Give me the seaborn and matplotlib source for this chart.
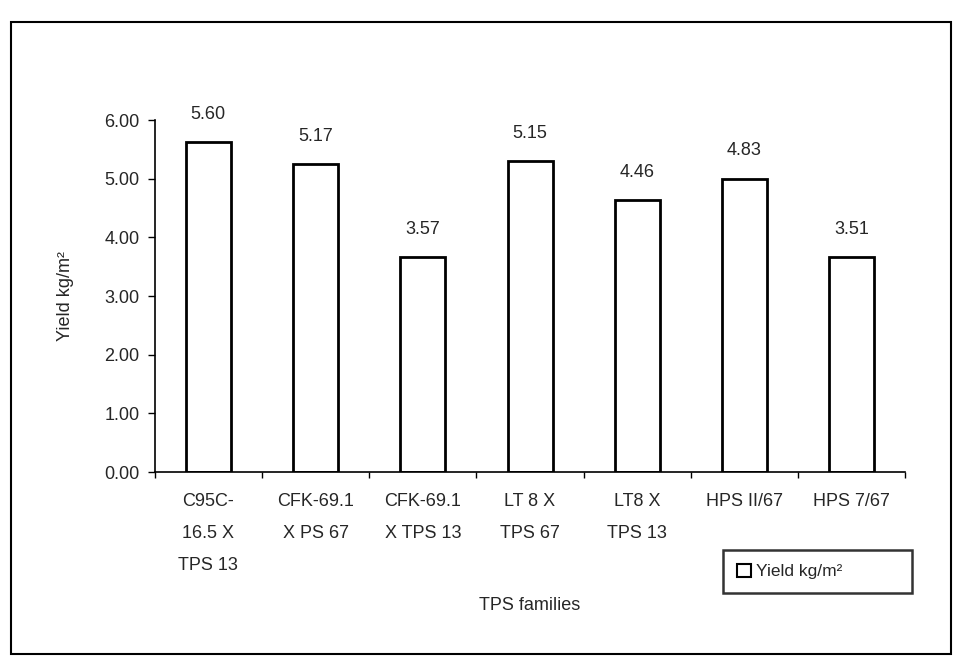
import matplotlib
matplotlib.use("Agg")
import matplotlib.pyplot as plt
import seaborn as sns
import numpy as np
from matplotlib.patches import Rectangle

sns.set_theme(style="white")
plt.rcParams['font.family'] = ['Liberation Sans', 'DejaVu Sans']

categories = ["C95C-\n16.5 X\nTPS 13", "CFK-69.1\nX PS 67", "CFK-69.1\nX TPS 13",
              "LT 8 X\nTPS 67", "LT8 X\nTPS 13", "HPS II/67", "HPS 7/67"]
heights = [5.62, 5.25, 3.66, 5.30, 4.64, 5.00, 3.66]
value_labels = ["5.60", "5.17", "3.57", "5.15", "4.46", "4.83", "3.51"]
yticks = [0, 1, 2, 3, 4, 5, 6]

fig = plt.figure(figsize=(9.55, 6.64), dpi=100)
ax = fig.add_axes([0.162, 0.289, 0.786, 0.530])

sns.barplot(x=list(range(len(categories))), y=heights, color="white", edgecolor="black",
            linewidth=2.0, width=0.42, ax=ax)

ax.set_ylim(0, 6)
ax.set_xlim(-0.5, len(categories) - 0.5)
ax.set_yticks(yticks)
ax.set_yticklabels([f"{v:.2f}" for v in yticks], fontsize=13)
ax.set_xticks(range(len(categories)))
ax.set_xticklabels(categories, fontsize=13, linespacing=2.15, va="top")
ax.tick_params(axis="x", length=0, pad=15)
ax.set_xticks(np.arange(-0.5, len(categories), 1.0), minor=True)
ax.tick_params(axis="x", which="minor", length=4, direction="out", color="black", width=1, bottom=True)
ax.tick_params(axis="y", length=5, direction="out", color="black", width=1, left=True, pad=6)

for s in ["top", "right"]:
    ax.spines[s].set_visible(False)
for s in ["left", "bottom"]:
    ax.spines[s].set_color("black")
    ax.spines[s].set_linewidth(1.2)

for i, (h, lab) in enumerate(zip(heights, value_labels)):
    ax.annotate(lab, (i, h), xytext=(0, 14), textcoords="offset points",
                ha="center", va="bottom", fontsize=13)

ax.set_ylabel("Yield kg/m\u00b2", fontsize=13, labelpad=22)
fig.text(0.555, 0.088, "TPS families", ha="center", va="center", fontsize=13)

handle = Rectangle((0, 0), 1, 1, facecolor="white", edgecolor="black", linewidth=1.5)
leg = fig.legend([handle], ["Yield kg/m\u00b2"], loc="center left",
                 bbox_to_anchor=(0.757, 0.104, 0.198, 0.071), mode="expand",
                 fontsize=12.5, frameon=True, fancybox=False, handlelength=0.8, handleheight=0.8,
                 handletextpad=0.3, borderpad=0.8, borderaxespad=0)
leg.get_frame().set_edgecolor("black")
leg.get_frame().set_linewidth(1.8)

# outer frame
fig.add_artist(Rectangle((0.011, 0.015), 0.985, 0.952, transform=fig.transFigure,
                         fill=False, edgecolor="black", linewidth=1.5))

fig.savefig("out.png", dpi=100)
